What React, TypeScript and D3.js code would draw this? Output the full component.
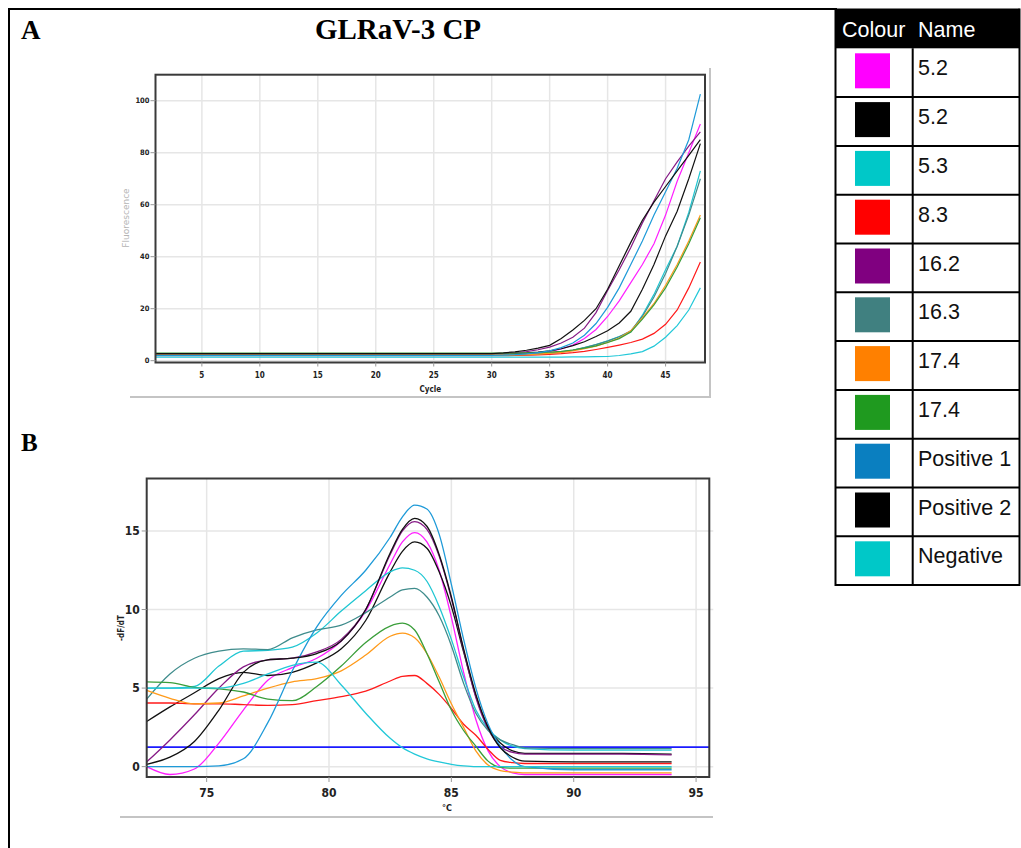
import React from "react";
import * as d3 from "d3";

// ---- samples (legend order) ----
const sampleNames = ["5.2", "5.2", "5.3", "8.3", "16.2", "16.3", "17.4", "17.4", "Positive 1", "Positive 2", "Negative"];
const swatchColours = ["#ff00ff", "#000000", "#00c8c8", "#ff0000", "#800080", "#408080", "#ff8000", "#1f9a1f", "#0a7fc0", "#000000", "#00c8c8"];
const lineColours = ["#ff1eff", "#111111", "#1ec6d2", "#ff1a1a", "#861a86", "#3f8c8c", "#ff9a1a", "#3a9e3a", "#1e9ad8", "#111111", "#22c8d8"];

// ---- A: amplification (fluorescence vs cycle) ----
const ampXTicks = [5, 10, 15, 20, 25, 30, 35, 40, 45];
const ampYTicks = [0, 20, 40, 60, 80, 100];
const ampCycles = [30, 31, 32, 33, 34, 35, 36, 37, 38, 39, 40, 41, 42, 43, 44, 45, 46, 47, 48];
// flat fluorescence over cycles 1-29
const ampBaseline = [2.2, 2.6, 2.0, 1.9, 2.5, 2.2, 2.1, 2.9, 2.0, 2.7, 1.4];
const amp52a = [2.2, 2.3, 2.4, 2.6, 2.9, 3.5, 4.5, 6.0, 8.5, 12, 17, 23, 30, 37, 45, 56, 69, 80, 91];
const amp52b = [2.6, 2.7, 2.8, 3.0, 3.3, 3.8, 4.6, 5.8, 7.3, 9.3, 11.5, 14.5, 19, 27.5, 37, 48, 57.5, 70, 83.5];
const amp53 = [2.0, 2.0, 2.1, 2.2, 2.4, 2.8, 3.3, 4.0, 5.0, 6.2, 7.6, 9.3, 11, 17.5, 25.5, 35, 44, 57, 73];
const amp83 = [1.9, 1.9, 2.0, 2.1, 2.2, 2.4, 2.7, 3.1, 3.6, 4.3, 5.1, 6.0, 7.0, 8.3, 10.5, 14, 19.5, 28, 38];
const amp162 = [2.5, 2.7, 3.0, 3.5, 4.2, 5.2, 6.8, 9.0, 12.5, 18.5, 27, 35, 43.5, 53, 61.5, 70, 76.5, 82.5, 88];
const amp163 = [2.2, 2.2, 2.3, 2.4, 2.6, 2.9, 3.4, 4.1, 5.0, 6.2, 7.5, 9.2, 11.5, 17, 24.5, 33.5, 44, 56, 70];
const amp174a = [2.1, 2.1, 2.2, 2.3, 2.5, 2.8, 3.2, 3.8, 4.6, 5.6, 7.0, 8.7, 11.5, 16.5, 22, 29, 37, 46, 56];
const amp174b = [2.9, 2.9, 2.9, 3.0, 3.1, 3.3, 3.6, 4.1, 4.8, 5.7, 7.0, 8.5, 11, 16, 21.5, 28, 36, 45, 55];
const ampPos1 = [2.0, 2.1, 2.3, 2.6, 3.1, 3.8, 5.0, 6.8, 9.8, 14.3, 20.5, 28, 37, 46, 56, 65, 74, 85, 102.5];
const ampPos2 = [2.7, 3.0, 3.4, 4.0, 4.8, 5.9, 8.5, 11.8, 15.5, 20, 27.5, 36.5, 45.5, 54, 61, 67, 73, 79, 85];
const ampNeg = [1.4, 1.4, 1.4, 1.4, 1.4, 1.4, 1.4, 1.45, 1.5, 1.55, 1.6, 2.0, 2.6, 3.5, 5.6, 9.0, 13.5, 19.5, 28];
const ampSeries = [amp52a, amp52b, amp53, amp83, amp162, amp163, amp174a, amp174b, ampPos1, ampPos2, ampNeg];

// ---- B: melt curve (-dF/dT vs temperature) ----
const meltXTicks = [75, 80, 85, 90, 95];
const meltYTicks = [0, 5, 10, 15];
const meltThreshold = 1.24;
const meltTemps = [72.55, 73.5, 74.5, 75.5, 76.5, 77.5, 78.5, 79.5, 80.5, 81.5, 82.5, 83, 83.5, 84, 84.5, 85, 85.5, 86, 86.5, 87, 87.5, 88, 90, 92, 94];
const melt52a = [0.0, -0.5, -0.15, 1.5, 3.6, 5.5, 6.3, 6.9, 8.0, 9.9, 12.9, 14.3, 14.9, 14.3, 12.5, 9.5, 6.0, 3.0, 1.0, 0.0, -0.4, -0.5, -0.5, -0.5, -0.5];
const melt52b = [2.87, 3.8, 4.7, 5.6, 6.0, 5.8, 6.0, 6.6, 7.5, 9.3, 12.4, 13.7, 14.3, 13.9, 12.4, 10.2, 7.3, 4.5, 2.5, 1.5, 1.0, 0.85, 0.85, 0.85, 0.8];
const melt53 = [5.0, 5.0, 5.1, 6.4, 7.35, 7.4, 7.6, 8.5, 9.9, 11.2, 12.4, 12.65, 12.5, 11.8, 10.2, 8.1, 5.7, 3.6, 2.4, 1.7, 1.3, 1.15, 1.05, 1.05, 1.05];
const melt83 = [4.05, 4.05, 4.0, 4.0, 3.95, 3.9, 3.95, 4.2, 4.45, 4.8, 5.45, 5.75, 5.8, 5.3, 4.6, 3.7, 2.7, 2.0, 1.1, 0.4, 0.25, 0.2, 0.2, 0.2, 0.2];
const melt162 = [0.3, 1.7, 3.3, 5.0, 6.35, 6.8, 6.9, 7.3, 8.1, 10.0, 13.5, 15.0, 15.6, 15.1, 13.4, 10.7, 7.4, 4.4, 2.4, 1.3, 0.9, 0.8, 0.8, 0.8, 0.75];
const melt163 = [4.3, 5.9, 6.9, 7.35, 7.5, 7.45, 8.2, 8.7, 9.0, 9.8, 10.8, 11.25, 11.35, 10.8, 9.6, 7.7, 5.3, 3.4, 2.3, 1.7, 1.4, 1.2, 1.15, 1.15, 1.15];
const melt174a = [4.85, 4.35, 4.0, 4.05, 4.5, 5.0, 5.4, 5.6, 6.1, 7.1, 8.3, 8.5, 8.2, 7.2, 5.7, 4.0, 2.5, 1.0, 0.1, -0.25, -0.35, -0.4, -0.4, -0.4, -0.4];
const melt174b = [5.4, 5.35, 5.05, 4.95, 4.75, 4.3, 4.2, 5.1, 6.4, 7.9, 8.95, 9.13, 8.7, 7.2, 5.4, 3.6, 2.3, 1.3, 0.35, -0.05, -0.1, -0.1, -0.1, -0.1, -0.1];
const meltPos1 = [0.0, 0.0, 0.0, 0.05, 0.5, 2.8, 6.1, 8.9, 10.9, 12.5, 14.6, 15.9, 16.65, 16.4, 14.8, 11.6, 8.1, 5.0, 2.7, 1.3, 0.4, 0.0, -0.2, -0.2, -0.2];
const meltPos2 = [0.15, 0.6, 1.6, 3.6, 6.0, 6.8, 6.9, 7.2, 8.0, 10.0, 13.6, 15.1, 15.8, 15.3, 13.5, 10.8, 7.5, 4.6, 2.5, 1.2, 0.6, 0.35, 0.3, 0.3, 0.3];
const meltNeg = [5.0, 5.0, 5.0, 5.0, 5.3, 5.9, 6.45, 6.65, 5.2, 3.4, 1.8, 1.2, 0.8, 0.5, 0.3, 0.15, 0.05, 0.0, 0.0, 0.0, 0.0, 0.0, 0.0, 0.0, 0.0];
const meltSeries = [melt52a, melt52b, melt53, melt83, melt162, melt163, melt174a, melt174b, meltPos1, meltPos2, meltNeg];

const tickFont = "'Liberation Sans Narrow', 'DejaVu Sans Condensed', Arial, sans-serif";
const serif = "'Liberation Serif', 'Times New Roman', serif";

function AmplificationPanel() {
  const x = d3.scaleLinear().domain([1, 48.4]).range([155.5, 705]);
  const y = d3.scaleLinear().domain([-0.7, 110]).range([362.5, 74.7]);
  const line = d3
    .line<[number, number]>()
    .x((d) => x(d[0]))
    .y((d) => y(d[1]));
  const [x0, x1] = x.range();
  const [y0, y1] = y.range();
  return (
    <g>
      {ampYTicks.map((t) => (
        <line key={"gy" + t} x1={x0} x2={x1} y1={y(t)} y2={y(t)} stroke="#e6e6e6" strokeWidth={1.5} />
      ))}
      {ampXTicks.map((t) => (
        <line key={"gx" + t} x1={x(t)} x2={x(t)} y1={y1} y2={y0} stroke="#e6e6e6" strokeWidth={1.5} />
      ))}
      {ampSeries.map((vals, i) => {
        const pts: [number, number][] = [[1, ampBaseline[i]], ...ampCycles.map((c, k) => [c, vals[k]] as [number, number])];
        return <path key={"a" + i} d={line(pts) || ""} fill="none" stroke={lineColours[i]} strokeWidth={1.2} />;
      })}
      <rect x={x0} y={y1} width={x1 - x0} height={y0 - y1} fill="none" stroke="#3a3a3a" strokeWidth={2} />
      {ampYTicks.map((t) => (
        <g key={"ty" + t}>
          <line x1={x0 - 5} x2={x0} y1={y(t)} y2={y(t)} stroke="#999" strokeWidth={1} />
          <text x={x0 - 6} y={y(t)} dy="0.35em" textAnchor="end" fontSize={7.5} fontWeight="bold" fontFamily={tickFont} fill="#222">
            {t}
          </text>
        </g>
      ))}
      {ampXTicks.map((t) => (
        <g key={"tx" + t}>
          <line x1={x(t)} x2={x(t)} y1={y0} y2={y0 + 4} stroke="#999" strokeWidth={1} />
          <text x={x(t)} y={y0 + 15} textAnchor="middle" fontSize={8} fontWeight="bold" fontFamily={tickFont} fill="#222">
            {t}
          </text>
        </g>
      ))}
      <text x={(x0 + x1) / 2} y={y0 + 29} textAnchor="middle" fontSize={8} fontWeight="bold" fontFamily={tickFont} fill="#222">
        Cycle
      </text>
      <text
        transform={`translate(129,218) rotate(-90)`}
        textAnchor="middle"
        fontSize={9}
        fontFamily="'DejaVu Sans', sans-serif"
        fill="#b4b4b4"
      >
        Fluorescence
      </text>
      {/* frame of the exported instrument view */}
      <line x1={130} x2={711} y1={397} y2={397} stroke="#c4c4c4" strokeWidth={2} />
      <line x1={710} x2={710} y1={68} y2={397} stroke="#c4c4c4" strokeWidth={2} />
    </g>
  );
}

function MeltPanel() {
  const x = d3.scaleLinear().domain([72.55, 95.54]).range([146.7, 709.3]);
  const y = d3.scaleLinear().domain([-0.66, 18.34]).range([777, 478.5]);
  const line = d3
    .line<[number, number]>()
    .x((d) => x(d[0]))
    .y((d) => y(d[1]))
    .curve(d3.curveMonotoneX);
  const [x0, x1] = x.range();
  const [y0, y1] = y.range();
  return (
    <g>
      {meltYTicks.map((t) => (
        <line key={"gy" + t} x1={x0} x2={x1 + 4} y1={y(t)} y2={y(t)} stroke="#e6e6e6" strokeWidth={1.5} />
      ))}
      {meltXTicks.map((t) => (
        <line key={"gx" + t} x1={x(t)} x2={x(t)} y1={y1} y2={y0} stroke="#e6e6e6" strokeWidth={1.5} />
      ))}
      <line x1={x0} x2={x1} y1={y(meltThreshold)} y2={y(meltThreshold)} stroke="#1a1aff" strokeWidth={1.6} />
      {meltSeries.map((vals, i) => {
        const pts = meltTemps.map((t, k) => [t, vals[k]] as [number, number]);
        return <path key={"m" + i} d={line(pts) || ""} fill="none" stroke={lineColours[i]} strokeWidth={1.3} />;
      })}
      <rect x={x0} y={y1} width={x1 - x0} height={y0 - y1} fill="none" stroke="#3a3a3a" strokeWidth={2} />
      {meltYTicks.map((t) => (
        <g key={"ty" + t}>
          <line x1={x0 - 5} x2={x0} y1={y(t)} y2={y(t)} stroke="#999" strokeWidth={1} />
          <text x={x0 - 7} y={y(t)} dy="0.35em" textAnchor="end" fontSize={12} fontWeight="bold" fontFamily={tickFont} fill="#222">
            {t}
          </text>
        </g>
      ))}
      {meltXTicks.map((t) => (
        <g key={"tx" + t}>
          <line x1={x(t)} x2={x(t)} y1={y0} y2={y0 + 5} stroke="#999" strokeWidth={1} />
          <text x={x(t)} y={y0 + 20} textAnchor="middle" fontSize={12} fontWeight="bold" fontFamily={tickFont} fill="#222">
            {t}
          </text>
        </g>
      ))}
      <text x={447} y={811} textAnchor="middle" fontSize={9} fontWeight="bold" fontFamily={tickFont} fill="#222">
        °C
      </text>
      <text transform={`translate(124,628) rotate(-90)`} textAnchor="middle" fontSize={8} fontWeight="bold" fontFamily={tickFont} fill="#222">
        -dF/dT
      </text>
      <line x1={120} x2={713} y1={817} y2={817} stroke="#c4c4c4" strokeWidth={2} />
    </g>
  );
}

function Legend() {
  const left = 835.5;
  const right = 1019.5;
  const divider = 912.7;
  const top = 8.5;
  const headerBottom = 48.3;
  const rowH = 48.8;
  const bottom = headerBottom + rowH * sampleNames.length;
  const font = "'Liberation Sans', Arial, sans-serif";
  return (
    <g>
      <rect x={left} y={top} width={right - left} height={headerBottom - top} fill="#000" />
      <text x={842} y={36.5} fontSize={21.5} fontFamily={font} fill="#fff">
        Colour
      </text>
      <text x={918} y={36.5} fontSize={21.5} fontFamily={font} fill="#fff">
        Name
      </text>
      {sampleNames.map((name, i) => {
        const ry = headerBottom + i * rowH;
        return (
          <g key={"r" + i}>
            <rect x={855} y={ry + 5} width={35} height={35} fill={swatchColours[i]} />
            <text x={918} y={ry + 27} fontSize={21.5} fontFamily={font} fill="#111">
              {name}
            </text>
            <line x1={left} x2={right} y1={ry + rowH} y2={ry + rowH} stroke="#000" strokeWidth={2} />
          </g>
        );
      })}
      <line x1={divider} x2={divider} y1={headerBottom} y2={bottom} stroke="#000" strokeWidth={2} />
      <line x1={left} x2={left} y1={top} y2={bottom + 1} stroke="#000" strokeWidth={2} />
      <line x1={right} x2={right} y1={top} y2={bottom + 1} stroke="#000" strokeWidth={2} />
    </g>
  );
}

export default function App() {
  return (
    <svg
      width={1021}
      height={848}
      viewBox="0 0 1021 848"
      style={{ position: "absolute", left: 0, top: 0, background: "#fff" }}
    >
      <rect x={0} y={0} width={1021} height={848} fill="#fff" />
      {/* figure frame */}
      <line x1={8} x2={837} y1={9} y2={9} stroke="#000" strokeWidth={2} />
      <line x1={9} x2={9} y1={8} y2={848} stroke="#000" strokeWidth={2} />
      <text x={21} y={38.5} fontSize={27} fontWeight="bold" fontFamily={serif}>
        A
      </text>
      <text x={398} y={38.5} textAnchor="middle" fontSize={29} fontWeight="bold" fontFamily={serif}>
        GLRaV-3 CP
      </text>
      <text x={21} y={450.5} fontSize={25} fontWeight="bold" fontFamily={serif}>
        B
      </text>
      <AmplificationPanel />
      <MeltPanel />
      <Legend />
    </svg>
  );
}
